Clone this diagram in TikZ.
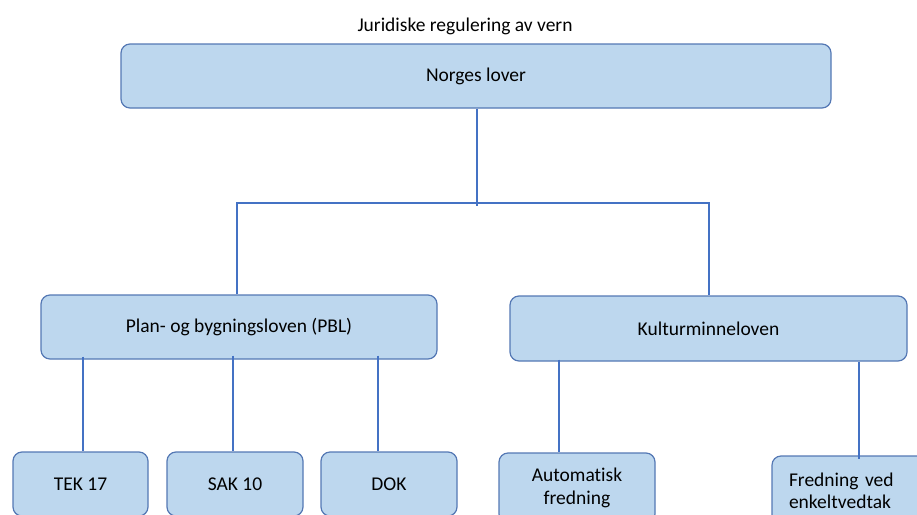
\documentclass[tikz,border=0pt]{standalone}
\usepackage{fontspec}
\setmainfont[Ligatures=NoCommon]{Carlito}
\definecolor{boxfill}{RGB}{189,215,238}
\definecolor{boxline}{RGB}{84,120,180}
\definecolor{conn}{RGB}{68,114,196}
\begin{document}
\begin{tikzpicture}[x=1pt,y=-1pt,
  box/.style={draw=boxline,fill=boxfill,line width=1.2pt,rounded corners=9pt,
    minimum height=64pt,inner sep=0pt,font=\fontsize{19.5}{22.5}\selectfont,align=center},
  link/.style={draw=conn,line width=1.1pt}]
\useasboundingbox (0,0) rectangle (917,514);
\clip (0,0) rectangle (917,514);
\node[anchor=base,font=\fontsize{19.5}{22}\selectfont] (title) at (465,31) {Juridiske regulering av vern};
\node[box,minimum width=710pt] (norges) at (476,76) {Norges lover};
\node[box,minimum width=396pt] (pbl) at (239,327) {Plan- og bygningsloven (PBL)};
\node[box,minimum width=397pt,minimum height=65pt] (kult) at (708.5,328.5) {Kulturminneloven};
\node[box,minimum width=135pt] (tek) at (80.5,484) {TEK 17};
\node[box,minimum width=136pt] (sak) at (235,484) {SAK 10};
\node[box,minimum width=136pt] (dok) at (389,484) {DOK};
\node[box,minimum width=156pt,minimum height=70pt] (auto) at (577,488) {Automatisk\\fredning};
\node[box,minimum width=156pt,minimum height=70pt,inner xsep=17pt,text width=122pt,align=left] (fred) at (850,491) {Fredning ved\\enkeltvedtak};
\coordinate (j) at (477,203);
\coordinate (bl) at (237,203);
\coordinate (br) at (709,203);
\coordinate (xtek) at (83,0);
\coordinate (xsak) at (233,0);
\coordinate (xdok) at (378,0);
\coordinate (xauto) at (559,0);
\coordinate (xfred) at (859,0);
\draw[link] (norges.south -| j) -- ([yshift=-3pt]j);
\draw[link] (pbl.north -| bl) -- (bl) -- (br) -- (kult.north -| br);
\draw[link] ([yshift=3pt]pbl.south -| xtek) -- (tek.north -| xtek);
\draw[link] ([yshift=4pt]pbl.south -| xsak) -- (sak.north -| xsak);
\draw[link] ([yshift=4pt]pbl.south -| xdok) -- (dok.north -| xdok);
\draw[link] ([yshift=2pt]kult.south -| xauto) -- (auto.north -| xauto);
\draw[link] (kult.south -| xfred) -- ([yshift=-4pt]fred.north -| xfred);
\end{tikzpicture}
\end{document}
